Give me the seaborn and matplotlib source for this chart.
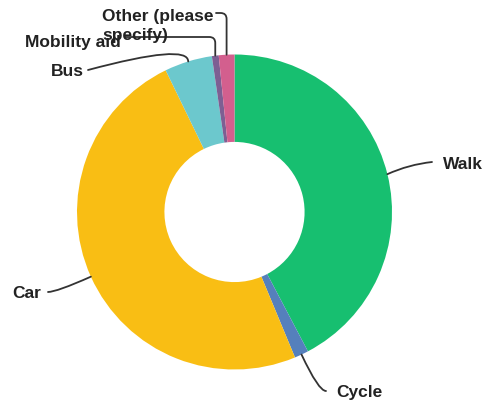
import matplotlib
matplotlib.use('Agg')
import matplotlib.pyplot as plt
import numpy as np
import seaborn as sns

modes = ['Walk', 'Cycle', 'Car', 'Bus', 'Mobility aid', 'Other (please\nspecify)']
shares = [42.3, 1.45, 49.1, 4.9, 0.7, 1.6]
colors = ['#17BF70', '#5580BC', '#F9BE14', '#6CC8CD', '#7D5F93', '#D35F8E']

sns.set_theme(style='white')
plt.rcParams['font.family'] = ['Liberation Sans', 'DejaVu Sans']

W, H = 483, 406
CX, CY, R = 234.5, 213, 157.5


def px(x, y):
    # pixel position (from top-left) -> data coords of the pie
    return ((x - CX) / R, (CY - y) / R)


fig = plt.figure(figsize=(W / 100, H / 100), dpi=100)
ax = fig.add_axes([0, 0, 1, 1])

wedges, _ = ax.pie(
    shares,
    colors=colors,
    startangle=90,
    counterclock=False,
    radius=1,
    wedgeprops=dict(width=0.555, linewidth=0),
)
ax.set_xlim(-CX / R, (W - CX) / R)
ax.set_ylim(-(H - CY) / R, CY / R)
ax.set_aspect('equal')
ax.axis('off')

# label layout: text pos (px), alignment, line start (px), connection style
layout = {
    'Walk': ((443, 165), 'left', (432, 163), 'arc3,rad=0.08'),
    'Cycle': ((336, 393), 'left', (326, 392), 'angle3,angleA=0,angleB=-65'),
    'Car': ((41, 294), 'right', (48, 293), 'angle3,angleA=0,angleB=24'),
    'Bus': ((84, 72), 'right', (88, 71), 'angle3,angleA=15,angleB=90'),
    'Mobility aid': ((25, 43), 'left', (125, 38), 'angle,angleA=0,angleB=90,rad=6'),
    'Other (please\nspecify)': ((102, 26), 'left', (216, 14), 'angle,angleA=0,angleB=90,rad=6'),
}

for w, name in zip(wedges, modes):
    (tx, ty), ha, (lx, ly), cs = layout[name]
    mid = np.deg2rad((w.theta1 + w.theta2) / 2)
    anchor = (np.cos(mid), np.sin(mid))
    ax.annotate('', xy=anchor, xytext=px(lx, ly),
                arrowprops=dict(arrowstyle='-', color='#333333', lw=1.3,
                                connectionstyle=cs, shrinkA=0, shrinkB=0))
    ax.text(*px(tx, ty), name, ha=ha, va='center', fontsize=12.5,
            fontweight='bold', color='#222222', linespacing=1.3)

fig.savefig('out.png', dpi=100)
